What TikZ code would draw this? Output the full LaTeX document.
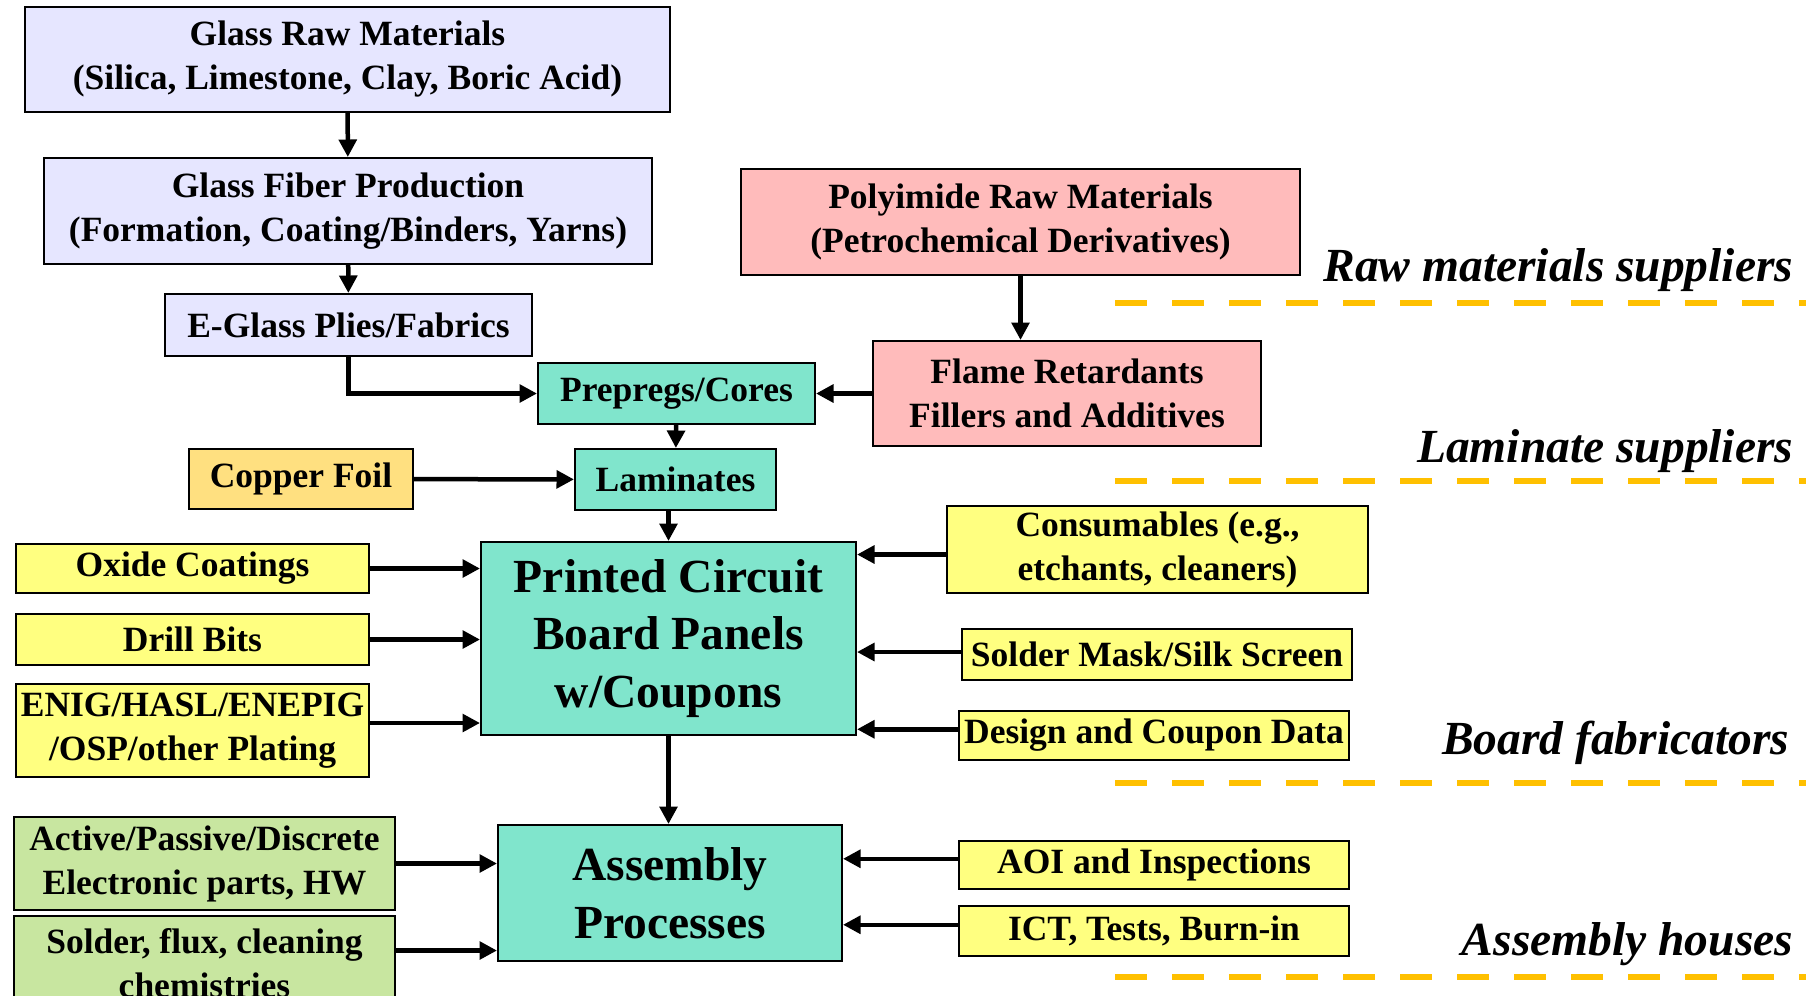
\documentclass[tikz,border=0pt]{standalone}
\usepackage{fontspec}
\setmainfont{Liberation Serif}
\usetikzlibrary{arrows.meta,positioning}
\definecolor{lavender}{RGB}{230,230,255}
\definecolor{pinkbox}{RGB}{255,187,187}
\definecolor{tealbox}{RGB}{128,229,204}
\definecolor{yellowbox}{RGB}{255,255,128}
\definecolor{copperbox}{RGB}{255,224,128}
\definecolor{greenbox}{RGB}{200,230,160}
\definecolor{dashorange}{RGB}{255,192,0}
\begin{document}
\begin{tikzpicture}[x=0.4pt,y=-0.4pt,
  box/.style={draw, line width=0.8pt, align=center, inner sep=0pt, font=\fontsize{14.2}{17.6}\selectfont\bfseries},
  bigbox/.style={box, font=\fontsize{19}{23}\selectfont\bfseries},
  feed/.style={line width=1.8pt, -{Triangle[length=7pt,width=7pt]}},
  tier/.style={dashorange, line width=2.4pt, dash pattern=on 12.8pt off 10pt},
  tierlabel/.style={anchor=east, font=\fontsize{19}{22}\selectfont\bfseries\itshape}]
\useasboundingbox (0,0) rectangle (1806,995);
%
\node[box, fill=lavender, minimum width=258pt, minimum height=42pt] (glassraw) at (347.5,59.5) {Glass Raw Materials\\(Silica, Limestone, Clay, Boric Acid)};
\node[box, fill=lavender, minimum width=243.2pt, minimum height=42.4pt] (glassfiber) at (348,211) {Glass Fiber Production\\(Formation, Coating/Binders, Yarns)};
\node[box, fill=lavender, minimum width=146.8pt, minimum height=24.8pt] (eglass) at (348.5,325) {E-Glass Plies/Fabrics};
\node[box, fill=pinkbox, minimum width=223.6pt, minimum height=42.4pt] (polyraw) at (1020.5,222) {Polyimide Raw Materials\\(Petrochemical Derivatives)};
\node[box, fill=pinkbox, minimum width=155.2pt, minimum height=42pt] (flame) at (1067,393.5) {Flame Retardants\\Fillers and Additives};
\node[box, fill=tealbox, minimum width=110.8pt, minimum height=24.4pt] (prepreg) at (676.5,393.5) {Prepregs/Cores};
\node[box, fill=tealbox, minimum width=80.4pt, minimum height=24.4pt] (laminates) at (675.5,479.5) {Laminates};
\node[box, fill=copperbox, minimum width=89.6pt, minimum height=24pt] (copper) at (301,479) {Copper Foil};
%
\node[box, fill=yellowbox, minimum width=141.2pt, minimum height=19.6pt] (oxide) at (192.5,568.5) {Oxide Coatings};
\node[box, fill=yellowbox, minimum width=141.2pt, minimum height=20.4pt] (drill) at (192.5,639.5) {Drill Bits};
\node[box, fill=yellowbox, minimum width=141.2pt, minimum height=37.2pt] (plating) at (192.5,730.5) {ENIG/HASL/ENEPIG\\/OSP/other Plating};
\node[bigbox, fill=tealbox, minimum width=150pt, minimum height=77.2pt] (pcb) at (668.5,638.5) {Printed Circuit\\Board Panels\\w/Coupons};
\node[box, fill=yellowbox, minimum width=168.4pt, minimum height=34.8pt] (consum) at (1157.5,549.5) {Consumables (e.g.,\\etchants, cleaners)};
\node[box, fill=yellowbox, minimum width=156pt, minimum height=20.4pt] (mask) at (1157,654.5) {Solder Mask/Silk Screen};
\node[box, fill=yellowbox, minimum width=156pt, minimum height=19.6pt] (design) at (1154,735.5) {Design and Coupon Data};
%
\node[box, fill=greenbox, minimum width=152.4pt, minimum height=37.2pt] (parts) at (204.5,863.5) {Active/Passive/Discrete\\Electronic parts, HW};
\node[box, fill=greenbox, minimum width=152.4pt, minimum height=37.6pt] (solder) at (204.5,963) {Solder, flux, cleaning\\chemistries};
\node[bigbox, fill=tealbox, minimum width=137.6pt, minimum height=54.4pt] (assembly) at (670,893) {Assembly\\Processes};
\node[box, fill=yellowbox, minimum width=156pt, minimum height=19.2pt] (aoi) at (1154,865) {AOI and Inspections};
\node[box, fill=yellowbox, minimum width=156pt, minimum height=20pt] (ict) at (1154,931) {ICT, Tests, Burn-in};
%
\draw[feed] (glassraw) -- (glassfiber);
\draw[feed] (glassfiber) -- (eglass);
\draw[feed] (eglass.south) |- (prepreg.west);
\draw[feed] (polyraw.south) -- (polyraw.south |- flame.north);
\draw[feed] (flame) -- (prepreg);
\draw[feed] (prepreg) -- (laminates);
\draw[feed] (copper) -- (laminates);
\draw[feed] (pcb.north |- laminates.south) -- (pcb.north);
\draw[feed] (oxide.east) -- (oxide.east -| pcb.west);
\draw[feed] (drill.east) -- (drill.east -| pcb.west);
\draw[feed] ([yshift=3pt]plating.east) -- ([yshift=3pt]plating.east -| pcb.west);
\draw[feed] ([yshift=-2pt]consum.west) -- ([yshift=-2pt]consum.west -| pcb.east);
\draw[feed] ([yshift=1pt]mask.west) -- ([yshift=1pt]mask.west -| pcb.east);
\draw[feed] ([yshift=2.5pt]design.west) -- ([yshift=2.5pt]design.west -| pcb.east);
\draw[feed] (pcb.south) -- (pcb.south |- assembly.north);
\draw[feed] (parts.east) -- (parts.east -| assembly.west);
\draw[feed] ([yshift=5pt]solder.east) -- ([yshift=5pt]solder.east -| assembly.west);
\draw[feed] ([yshift=2.5pt]aoi.west) -- ([yshift=2.5pt]aoi.west -| assembly.east);
\draw[feed] ([yshift=2.5pt]ict.west) -- ([yshift=2.5pt]ict.west -| assembly.east);
%
\node[tierlabel] (rawlabel) at (1802,270) {Raw materials suppliers};
\node[tierlabel] (lamlabel) at (1802,451) {Laminate suppliers};
\node[tierlabel] (boardlabel) at (1798,743) {Board fabricators};
\node[tierlabel] (asmlabel) at (1802,944) {Assembly houses};
\coordinate (rawA) at (1115,303); \coordinate (rawB) at (1806,303);
\coordinate (lamA) at (1115,481); \coordinate (lamB) at (1806,481);
\coordinate (boardA) at (1115,783); \coordinate (boardB) at (1806,783);
\coordinate (asmA) at (1115,977); \coordinate (asmB) at (1806,977);
\draw[tier] (rawA) -- (rawB);
\draw[tier] (lamA) -- (lamB);
\draw[tier] (boardA) -- (boardB);
\draw[tier] (asmA) -- (asmB);
%
\end{tikzpicture}
\end{document}
